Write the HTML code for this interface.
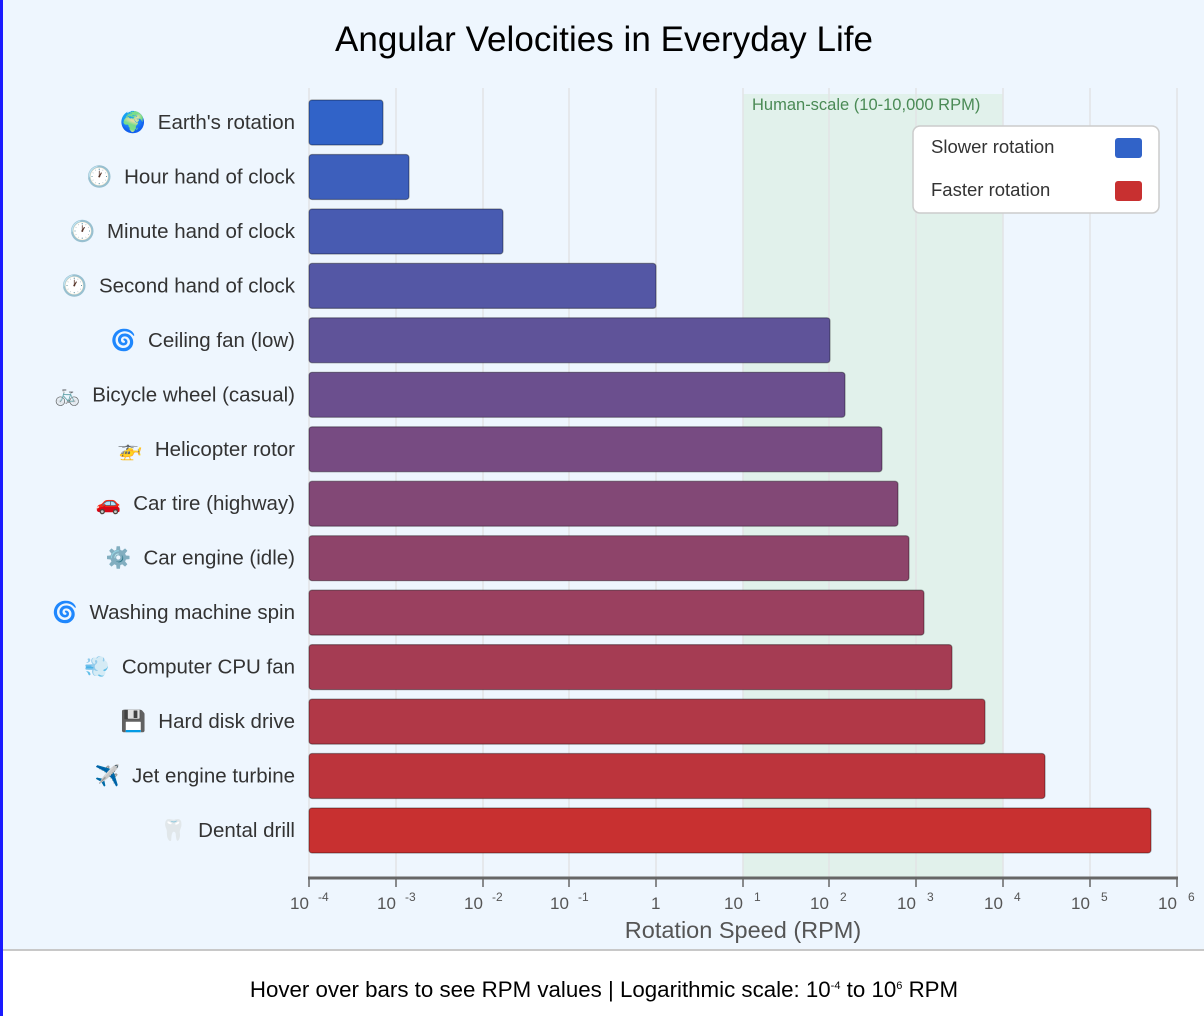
<!DOCTYPE html>
<html><head><meta charset="utf-8"><style>
html,body{margin:0;padding:0;width:1204px;height:1016px;overflow:hidden;background:#fff;font-family:"Liberation Sans","Noto Sans CJK JP",sans-serif}
</style></head><body>
<svg width="1204" height="1016" xmlns="http://www.w3.org/2000/svg" style="position:absolute;left:0;top:0;font-family:'Liberation Sans','DejaVu Sans',sans-serif">
<rect x="0" y="0" width="1204" height="949" fill="#eef6fe"/>
<rect x="0" y="949" width="1204" height="2" fill="#c8c8c8"/>
<rect x="0" y="0" width="3" height="1016" fill="#1a1aff"/>
<text x="604" y="51" text-anchor="middle" font-size="35" fill="#000" textLength="538">Angular Velocities in Everyday Life</text>
<rect x="743" y="94" width="260" height="784" fill="#e1f1eb"/>
<g stroke="#e2e4e6" stroke-width="1.5">
<line x1="309" y1="88" x2="309" y2="878"/><line x1="396" y1="88" x2="396" y2="878"/><line x1="483" y1="88" x2="483" y2="878"/><line x1="569" y1="88" x2="569" y2="878"/><line x1="656" y1="88" x2="656" y2="878"/><line x1="743" y1="88" x2="743" y2="878"/><line x1="829" y1="88" x2="829" y2="878"/><line x1="916" y1="88" x2="916" y2="878"/><line x1="1003" y1="88" x2="1003" y2="878"/><line x1="1090" y1="88" x2="1090" y2="878"/><line x1="1177" y1="88" x2="1177" y2="878"/>
</g>
<text x="752" y="110" font-size="16.5" fill="#4a8a55">Human-scale (10-10,000 RPM)</text>
<g stroke="rgba(0,0,0,0.35)" stroke-width="1.2">
<rect x="309" y="100" width="74" height="45" rx="3" fill="rgb(49,99,200)"/>
<rect x="309" y="154.5" width="100" height="45" rx="3" fill="rgb(61,95,188)"/>
<rect x="309" y="209" width="194" height="45" rx="3" fill="rgb(72,91,177)"/>
<rect x="309" y="263.4" width="347" height="45" rx="3" fill="rgb(84,87,165)"/>
<rect x="309" y="317.8" width="521" height="45" rx="3" fill="rgb(95,83,153)"/>
<rect x="309" y="372.3" width="536" height="45" rx="3" fill="rgb(107,79,142)"/>
<rect x="309" y="426.8" width="573" height="45" rx="3" fill="rgb(119,75,130)"/>
<rect x="309" y="481.2" width="589" height="45" rx="3" fill="rgb(130,72,118)"/>
<rect x="309" y="535.7" width="600" height="45" rx="3" fill="rgb(142,68,106)"/>
<rect x="309" y="590.1" width="615" height="45" rx="3" fill="rgb(154,64,95)"/>
<rect x="309" y="644.6" width="643" height="45" rx="3" fill="rgb(165,60,83)"/>
<rect x="309" y="699.1" width="676" height="45" rx="3" fill="rgb(177,56,71)"/>
<rect x="309" y="753.5" width="736" height="45" rx="3" fill="rgb(188,52,60)"/>
<rect x="309" y="808" width="842" height="45" rx="3" fill="rgb(200,48,48)"/>
</g>
<g font-size="20.5" fill="#333" text-anchor="end">
<text x="295" y="129">🌍<tspan dx="12">Earth's rotation</tspan></text>
<text x="295" y="183.5">🕐<tspan dx="12">Hour hand of clock</tspan></text>
<text x="295" y="238">🕐<tspan dx="12">Minute hand of clock</tspan></text>
<text x="295" y="292.4">🕐<tspan dx="12">Second hand of clock</tspan></text>
<text x="295" y="346.8">🌀<tspan dx="12">Ceiling fan (low)</tspan></text>
<text x="295" y="401.3">🚲<tspan dx="12">Bicycle wheel (casual)</tspan></text>
<text x="295" y="455.8">🚁<tspan dx="12">Helicopter rotor</tspan></text>
<text x="295" y="510.2">🚗<tspan dx="12">Car tire (highway)</tspan></text>
<text x="295" y="564.7">⚙️<tspan dx="12">Car engine (idle)</tspan></text>
<text x="295" y="619.1">🌀<tspan dx="12">Washing machine spin</tspan></text>
<text x="295" y="673.6">💨<tspan dx="12">Computer CPU fan</tspan></text>
<text x="295" y="728.1">💾<tspan dx="12">Hard disk drive</tspan></text>
<text x="295" y="782.5">✈️<tspan dx="12">Jet engine turbine</tspan></text>
<text x="295" y="837">🦷<tspan dx="12">Dental drill</tspan></text>
</g>
<rect x="913" y="126" width="246" height="87" rx="7" fill="#fff" stroke="#ccc" stroke-width="1.5"/>
<text x="931" y="153" font-size="18.5" fill="#333">Slower rotation</text>
<text x="931" y="196" font-size="18.5" fill="#333">Faster rotation</text>
<rect x="1115" y="138" width="27" height="20" rx="3" fill="#3163c8"/>
<rect x="1115" y="181" width="27" height="20" rx="3" fill="#c83030"/>
<line x1="308" y1="878" x2="1178" y2="878" stroke="#666" stroke-width="3"/>
<g stroke="#666" stroke-width="1.5">
<line x1="309" y1="878" x2="309" y2="887"/><line x1="396" y1="878" x2="396" y2="887"/><line x1="483" y1="878" x2="483" y2="887"/><line x1="569" y1="878" x2="569" y2="887"/><line x1="656" y1="878" x2="656" y2="887"/><line x1="743" y1="878" x2="743" y2="887"/><line x1="829" y1="878" x2="829" y2="887"/><line x1="916" y1="878" x2="916" y2="887"/><line x1="1003" y1="878" x2="1003" y2="887"/><line x1="1090" y1="878" x2="1090" y2="887"/><line x1="1177" y1="878" x2="1177" y2="887"/>
</g>
<g font-size="17" fill="#555">
<text x="290" y="909">10</text><text x="318" y="901" font-size="12">-4</text>
<text x="377" y="909">10</text><text x="405" y="901" font-size="12">-3</text>
<text x="464" y="909">10</text><text x="492" y="901" font-size="12">-2</text>
<text x="550" y="909">10</text><text x="578" y="901" font-size="12">-1</text>
<text x="651" y="909">1</text>
<text x="724" y="909">10</text><text x="754" y="901" font-size="12">1</text>
<text x="810" y="909">10</text><text x="840" y="901" font-size="12">2</text>
<text x="897" y="909">10</text><text x="927" y="901" font-size="12">3</text>
<text x="984" y="909">10</text><text x="1014" y="901" font-size="12">4</text>
<text x="1071" y="909">10</text><text x="1101" y="901" font-size="12">5</text>
<text x="1158" y="909">10</text><text x="1188" y="901" font-size="12">6</text>
</g>
<text x="743" y="938" text-anchor="middle" font-size="23.5" fill="#555">Rotation Speed (RPM)</text>
<text x="604" y="997" text-anchor="middle" font-size="22.3" fill="#000">Hover over bars to see RPM values | Logarithmic scale: 10<tspan font-size="11" dy="-8">-4</tspan><tspan dy="8"> to 10</tspan><tspan font-size="11" dy="-8">6</tspan><tspan dy="8"> RPM</tspan></text>
</svg>
</body></html>
